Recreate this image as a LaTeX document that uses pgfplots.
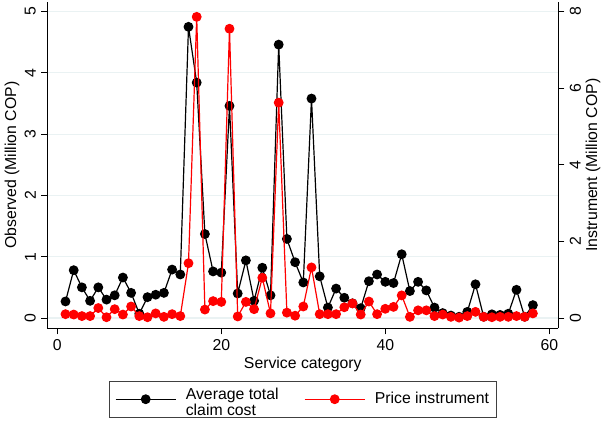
\documentclass[border=0pt]{standalone}
\usepackage{pgfplots}
\pgfplotsset{compat=1.18}
\usepackage{fontspec}
\setmainfont{Liberation Sans}
\definecolor{gridc}{RGB}{234,242,243}
\definecolor{sred}{RGB}{255,0,0}
\newcommand{\ff}{\fontsize{15.8bp}{15bp}\selectfont}

\pgfplotstableread{
x y
1 0.27
2 0.78
3 0.50
4 0.28
5 0.50
6 0.30
7 0.37
8 0.66
9 0.41
10 0.07
11 0.34
12 0.38
13 0.41
14 0.79
15 0.71
16 4.75
17 3.84
18 1.37
19 0.76
20 0.74
21 3.46
22 0.40
23 0.94
24 0.28
25 0.82
26 0.37
27 4.46
28 1.29
29 0.91
30 0.58
31 3.58
32 0.68
33 0.17
34 0.48
35 0.33
36 0.24
37 0.16
38 0.60
39 0.71
40 0.59
41 0.57
42 1.04
43 0.44
44 0.59
45 0.45
46 0.17
47 0.08
48 0.04
49 0.02
50 0.10
51 0.55
52 0.02
53 0.06
54 0.05
55 0.07
56 0.46
57 0.02
58 0.21
}\obs

\pgfplotstableread{
x y
1 0.10
2 0.09
3 0.05
4 0.05
5 0.26
6 0.02
7 0.23
8 0.09
9 0.30
10 0.05
11 0.02
12 0.12
13 0.03
14 0.10
15 0.05
16 1.43
17 7.86
18 0.22
19 0.44
20 0.42
21 7.55
22 0.04
23 0.42
24 0.23
25 1.05
26 0.12
27 5.62
28 0.14
29 0.06
30 0.30
31 1.32
32 0.10
33 0.10
34 0.10
35 0.28
36 0.38
37 0.09
38 0.43
39 0.10
40 0.24
41 0.29
42 0.59
43 0.03
44 0.20
45 0.20
46 0.05
47 0.09
48 0.03
49 0.01
50 0.05
51 0.16
52 0.03
53 0.02
54 0.03
55 0.03
56 0.05
57 0.03
58 0.12
}\inst

\pgfplotsset{
 common/.style={
  scale only axis, width=511bp, height=326.6bp,
  at={(47.3bp,98.7bp)}, anchor=south west,
  xmin=-1.22, xmax=61.1,
  tick align=outside, major tick length=6bp,
  /pgf/number format/assume math mode=true,
  tick style={black, line width=0.8bp},
  axis line style={-, black, line width=0.9bp},
  tick label style={font=\ff},
  label style={font=\ff},
 }
}

\begin{document}
\ff
\begin{tikzpicture}
\begin{axis}[common,
 axis x line*=bottom, axis y line*=left,
 ymin=-0.168, ymax=5.16,
 ytick={0,1,2,3,4,5}, xtick={0,20,40,60},
 ymajorgrids, grid style={gridc, line width=1.2bp},
 yticklabel style={rotate=90, anchor=south},
 xlabel={Service category}, ylabel={Observed (Million COP)},
 xlabel style={at={(axis description cs:0.5,-0.122)}, anchor=base},
 ylabel style={at={(axis description cs:-0.0691,0.5)}, anchor=center},
]
\addplot[black, line width=1.2bp, mark=*, mark size=4.3bp] table[x=x,y=y] {\obs};
\end{axis}
\begin{axis}[common,
 axis x line=none, axis y line*=right,
 ymin=-0.269, ymax=8.256,
 ytick={0,2,4,6,8},
 yticklabel style={rotate=90, anchor=north},
 ylabel={Instrument (Million COP)},
 ylabel style={at={(axis description cs:1.068,0.5)}, anchor=center},
 legend style={at={(axis description cs:0.5,-0.1614)}, anchor=north,
   legend columns=2, draw=black!75, line width=0.8bp, font=\ff,
   inner xsep=6bp, inner ysep=5bp, nodes={inner sep=1.5bp},
   /tikz/every odd column/.append style={column sep=8bp},
   /tikz/every even column/.append style={column sep=24bp}},
 legend image code/.code={\draw[mark repeat=2,mark phase=2,#1] plot coordinates {(0bp,0bp) (30bp,0bp) (60bp,0bp)};},
]
\addlegendimage{black, line width=1.2bp, mark=*, mark size=4.3bp}
\addlegendentry{\begin{tabular}{@{}l@{}}Average total\\claim cost\end{tabular}}
\addplot[sred, line width=1.2bp, mark=*, mark size=4.3bp] table[x=x,y=y] {\inst};
\addlegendentry{Price instrument}
\end{axis}
\pgfresetboundingbox
\useasboundingbox (0,0) rectangle (601bp,427bp);
\end{tikzpicture}
\end{document}
